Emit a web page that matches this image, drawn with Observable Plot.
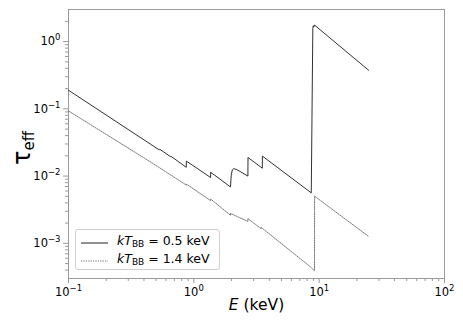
<!DOCTYPE html>
<html><head><meta charset="utf-8">
<script src="https://cdn.jsdelivr.net/npm/d3@7"></script>
<script src="https://cdn.jsdelivr.net/npm/@observablehq/plot@0.6"></script>
<style>
body{margin:0;background:#fff;font-family:"DejaVu Sans",sans-serif;}
#wrap{position:relative;width:463px;height:327px;overflow:hidden;}
.legend{position:absolute;left:75px;top:229px;width:145px;height:41px;border:1px solid #d0d0d0;border-radius:3px;background:rgba(255,255,255,0.85);box-sizing:border-box;}
.row{position:absolute;left:0;height:18px;font-size:12.5px;color:#000;white-space:nowrap;}
.row svg{position:absolute;left:4px;top:4px;}
.row span.t{position:absolute;left:41px;top:0;}
.row i{font-style:italic;}
.row sub{font-size:9px;vertical-align:-2px;}
.ylab{position:absolute;left:0;top:0;transform-origin:0 0;font-size:24px;white-space:nowrap;}
.ylab sub{font-size:15px;vertical-align:-4px;}
.xlab{position:absolute;top:296px;left:0;width:463px;text-align:center;font-size:15.5px;padding-left:50px;box-sizing:border-box;}
</style></head><body><div id="wrap"></div>
<script>
// kT_BB = 0.5 keV (solid)
const solidE   = [0.1, 0.53, 0.535, 0.65, 0.655, 0.87, 0.872, 1.36, 1.362, 1.96, 1.99, 2.03, 2.08, 2.2, 2.70, 2.705, 3.52, 3.525, 8.65, 8.9, 8.98, 9.05, 9.18, 24.8];
const solidTau = [0.189, 0.0245, 0.0250, 0.0195, 0.0198, 0.0135, 0.0167, 0.00953, 0.0114, 0.0069, 0.0105, 0.0124, 0.0129, 0.0125, 0.0100, 0.0189, 0.0131, 0.0198, 0.00563, 1.58, 1.72, 1.64, 1.76, 0.375];
// kT_BB = 1.4 keV (dotted)
const dotE   = [0.1, 0.45, 0.87, 0.872, 1.36, 1.362, 1.96, 1.962, 2.70, 2.705, 3.45, 3.455, 8.5, 9.18, 9.19, 24.6];
const dotTau = [0.093, 0.0163, 0.00736, 0.0076, 0.00432, 0.00455, 0.00262, 0.00278, 0.00212, 0.00232, 0.00165, 0.00172, 0.000448, 0.00039, 0.00503, 0.00128];
const xMajor = [0.1, 1, 10, 100];
const yMajor = [0.001, 0.01, 0.1, 1];
const xMinorDecades = [-1, 0, 1];
const yMinorDecades = [-4, -3, -2, -1, 0];
const mantissas = [2, 3, 4, 5, 6, 7, 8, 9];

const solid = solidE.map((E, i) => ({E, tau: solidTau[i]}));
const dot = dotE.map((E, i) => ({E, tau: dotTau[i]}));
const fmt = v => "10^" + Math.round(Math.log10(v));
const minorOf = decs => decs.flatMap(e => mantissas.map(m => +(m * Math.pow(10, e)).toPrecision(3)));
const xMinor = minorOf(xMinorDecades).filter(v => v > 0.1 && v < 100);
const yMinor = minorOf(yMinorDecades).filter(v => v > 3e-4 && v < 3);
const axisColor = "#9a9a9a";

const plot = Plot.plot({
  width: 463, height: 327,
  marginLeft: 68, marginRight: 19, marginTop: 9, marginBottom: 49,
  x: {type: "log", domain: [0.1, 100]},
  y: {type: "log", domain: [3e-4, 3]},
  style: {fontFamily: "DejaVu Sans", fontSize: "11px", background: "#fff", color: "#000"},
  marks: [
    Plot.frame({stroke: axisColor, strokeWidth: 1}),
    Plot.axisX({ticks: xMajor, tickFormat: fmt, tickSize: 5, tickPadding: 4, stroke: axisColor, fill: "#000", label: null, fontSize: 11.5}),
    Plot.axisX({ticks: xMinor, tickFormat: () => "", tickSize: 3, stroke: axisColor, label: null}),
    Plot.axisY({ticks: yMajor, tickFormat: fmt, tickSize: 5, tickPadding: 3, stroke: axisColor, fill: "#000", label: null, fontSize: 11.5}),
    Plot.axisY({ticks: yMinor, tickFormat: () => "", tickSize: 3, stroke: axisColor, label: null}),
    Plot.line(dot, {x: "E", y: "tau", stroke: "#555", strokeWidth: 0.8, strokeDasharray: "1.3,1.1"}),
    Plot.line(solid, {x: "E", y: "tau", stroke: "#1a1a1a", strokeWidth: 0.9})
  ]
});
// render "10^n" tick labels with a real raised exponent
plot.querySelectorAll("text").forEach(t => {
  const s = t.textContent;
  const m = /^10\^(-?\d+)$/.exec(s);
  if (!m) return;
  const exp = m[1].replace("-", "\u2212");
  while (t.firstChild) t.removeChild(t.firstChild);
  const ns = "http://www.w3.org/2000/svg";
  const a = document.createElementNS(ns, "tspan");
  a.textContent = "10";
  const b = document.createElementNS(ns, "tspan");
  b.textContent = exp;
  b.setAttribute("font-size", "8.5px");
  b.setAttribute("dy", "-5");
  t.appendChild(a); t.appendChild(b);
});
const wrap = document.getElementById("wrap");
wrap.appendChild(plot);

const leg = document.createElement("div");
leg.className = "legend";
leg.innerHTML = `
<div class="row" style="top:3px"><svg width="30" height="12"><line x1="1" y1="6" x2="28" y2="6" stroke="#555" stroke-width="1.3"/></svg><span class="t"><i>kT</i><sub>BB</sub> = 0.5 keV</span></div>
<div class="row" style="top:21px"><svg width="30" height="12"><line x1="1" y1="6" x2="28" y2="6" stroke="#555" stroke-width="0.8" stroke-dasharray="1.3,1.1"/></svg><span class="t"><i>kT</i><sub>BB</sub> = 1.4 keV</span></div>`;
wrap.appendChild(leg);

const yl = document.createElement("div");
yl.className = "ylab";
yl.innerHTML = "\u03C4<sub>eff</sub>";
wrap.appendChild(yl);
const w = yl.getBoundingClientRect().width;
yl.style.transform = `translate(8px, ${148 + w / 2}px) rotate(-90deg)`;

const xl = document.createElement("div");
xl.className = "xlab";
xl.innerHTML = "<i>E</i> (keV)";
wrap.appendChild(xl);
</script>
</body></html>
